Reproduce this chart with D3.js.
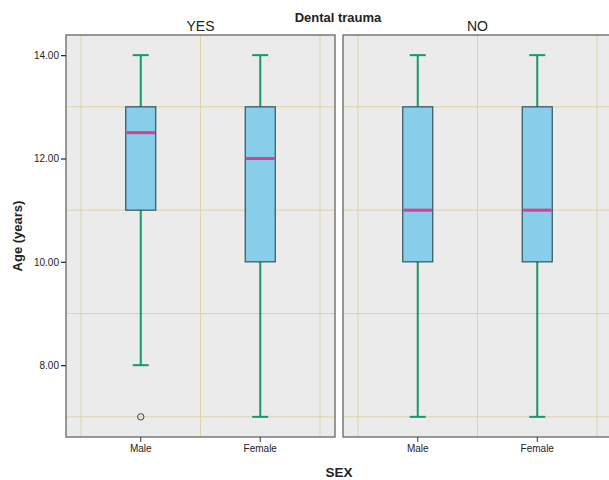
<!DOCTYPE html>
<html>
<head>
<meta charset="utf-8">
<script src="https://cdn.jsdelivr.net/npm/d3@7"></script>
<style>
  body { margin: 0; background: #fff; }
  svg { display: block; font-family: "Liberation Sans", Arial, sans-serif; }
</style>
</head>
<body>
<svg id="chart" width="609" height="480"></svg>
<script>
"use strict";

// ─── Data ──────────────────────────────────────
const panels = ["YES", "NO"];
const categories = ["Male", "Female"];
// [low whisker, Q1, median, Q3, high whisker] per panel, per category
const yesStats = [[8, 11, 12.5, 13, 14], [7, 10, 12, 13, 14]];
const noStats = [[7, 10, 11, 13, 14], [7, 10, 11, 13, 14]];
const outliers = [{ panel: "YES", cat: "Male", value: 7 }];
const yTicks = [8, 10, 12, 14];
const yGrid = [7, 9, 11, 13];

const svg = d3.select("#chart");

const panelW = 269, panelTop = 35, panelBottom = 437;
const panelX = { YES: 66, NO: 343 };

const y = d3.scaleLinear().domain([6.61, 14.39]).range([panelBottom, panelTop]);
const x = d3.scaleBand().domain(categories).range([15, panelW - 15]).padding(0);

const statsFor = { YES: yesStats, NO: noStats };

for (const p of panels) {
  const g = svg.append("g").attr("transform", `translate(${panelX[p]},0)`);

  g.append("rect")
    .attr("x", 0).attr("y", panelTop)
    .attr("width", panelW).attr("height", panelBottom - panelTop)
    .attr("fill", "#ebebeb");

  // gridlines: odd ages horizontally, band edges vertically
  g.selectAll("line.hg").data(yGrid).join("line")
    .attr("x1", 0).attr("x2", panelW)
    .attr("y1", d => y(d)).attr("y2", d => y(d))
    .attr("stroke", "#ddd4a4").attr("stroke-width", 1);
  const vEdges = [x.range()[0], ...categories.map(c => x(c) + x.bandwidth())];
  g.selectAll("line.vg").data(vEdges).join("line")
    .attr("x1", d => d).attr("x2", d => d)
    .attr("y1", panelTop).attr("y2", panelBottom)
    .attr("stroke", "#ddd4a4").attr("stroke-width", 1);

  const boxW = 30, capW = 16;
  statsFor[p].forEach((s, i) => {
    const cx = x(categories[i]) + x.bandwidth() / 2;
    const [lo, q1, med, q3, hi] = s;
    const wc = "#13996a";
    g.append("line").attr("x1", cx).attr("x2", cx).attr("y1", y(hi)).attr("y2", y(q3))
      .attr("stroke", wc).attr("stroke-width", 2);
    g.append("line").attr("x1", cx).attr("x2", cx).attr("y1", y(q1)).attr("y2", y(lo))
      .attr("stroke", wc).attr("stroke-width", 2);
    for (const v of [lo, hi]) {
      g.append("line").attr("x1", cx - capW / 2).attr("x2", cx + capW / 2)
        .attr("y1", y(v)).attr("y2", y(v))
        .attr("stroke", wc).attr("stroke-width", 2);
    }
    g.append("rect")
      .attr("x", cx - boxW / 2).attr("y", y(q3))
      .attr("width", boxW).attr("height", y(q1) - y(q3))
      .attr("fill", "#87ceeb").attr("stroke", "#34505e").attr("stroke-width", 1.2);
    g.append("line").attr("x1", cx - boxW / 2 + 0.6).attr("x2", cx + boxW / 2 - 0.6)
      .attr("y1", y(med)).attr("y2", y(med))
      .attr("stroke", "#d6408f").attr("stroke-width", 3);
  });

  outliers.filter(o => o.panel === p).forEach(o => {
    g.append("circle")
      .attr("cx", x(o.cat) + x.bandwidth() / 2).attr("cy", y(o.value)).attr("r", 3.2)
      .attr("fill", "none").attr("stroke", "#444").attr("stroke-width", 1);
  });

  g.append("rect")
    .attr("x", 0).attr("y", panelTop)
    .attr("width", panelW).attr("height", panelBottom - panelTop)
    .attr("fill", "none").attr("stroke", "#666").attr("stroke-width", 1.3);

  // x axis
  const xa = g.append("g").attr("transform", `translate(0,${panelBottom})`)
    .call(d3.axisBottom(x).tickSize(5).tickPadding(3));
  xa.select(".domain").remove();
  xa.selectAll("line").attr("stroke", "#333");
  xa.selectAll("text").attr("font-size", 10).attr("fill", "#222")
    .attr("font-family", "Liberation Sans, Arial, sans-serif");

  svg.append("text")
    .attr("x", panelX[p] + panelW / 2).attr("y", 31)
    .attr("text-anchor", "middle").attr("font-size", 14).attr("fill", "#222")
    .text(p);
}

// y axis on the left panel
const ya = svg.append("g").attr("transform", `translate(${panelX.YES},0)`)
  .call(d3.axisLeft(y).tickValues(yTicks).tickFormat(d3.format(".2f")).tickSize(5).tickPadding(2));
ya.select(".domain").remove();
ya.selectAll("line").attr("stroke", "#333").attr("stroke-width", 1.3);
ya.selectAll("text").attr("font-size", 10).attr("fill", "#222")
  .attr("font-family", "Liberation Sans, Arial, sans-serif");

svg.append("text")
  .attr("x", 338).attr("y", 22)
  .attr("text-anchor", "middle").attr("font-size", 13).attr("font-weight", "bold").attr("fill", "#222")
  .text("Dental trauma");

svg.append("text")
  .attr("transform", `translate(22,236) rotate(-90)`)
  .attr("text-anchor", "middle").attr("font-size", 13).attr("font-weight", "bold").attr("fill", "#222")
  .text("Age (years)");

svg.append("text")
  .attr("x", 339).attr("y", 477)
  .attr("text-anchor", "middle")
  .attr("font-size", 13.5).attr("font-weight", "bold").attr("fill", "#222")
  .text("SEX");
</script>
</body>
</html>
